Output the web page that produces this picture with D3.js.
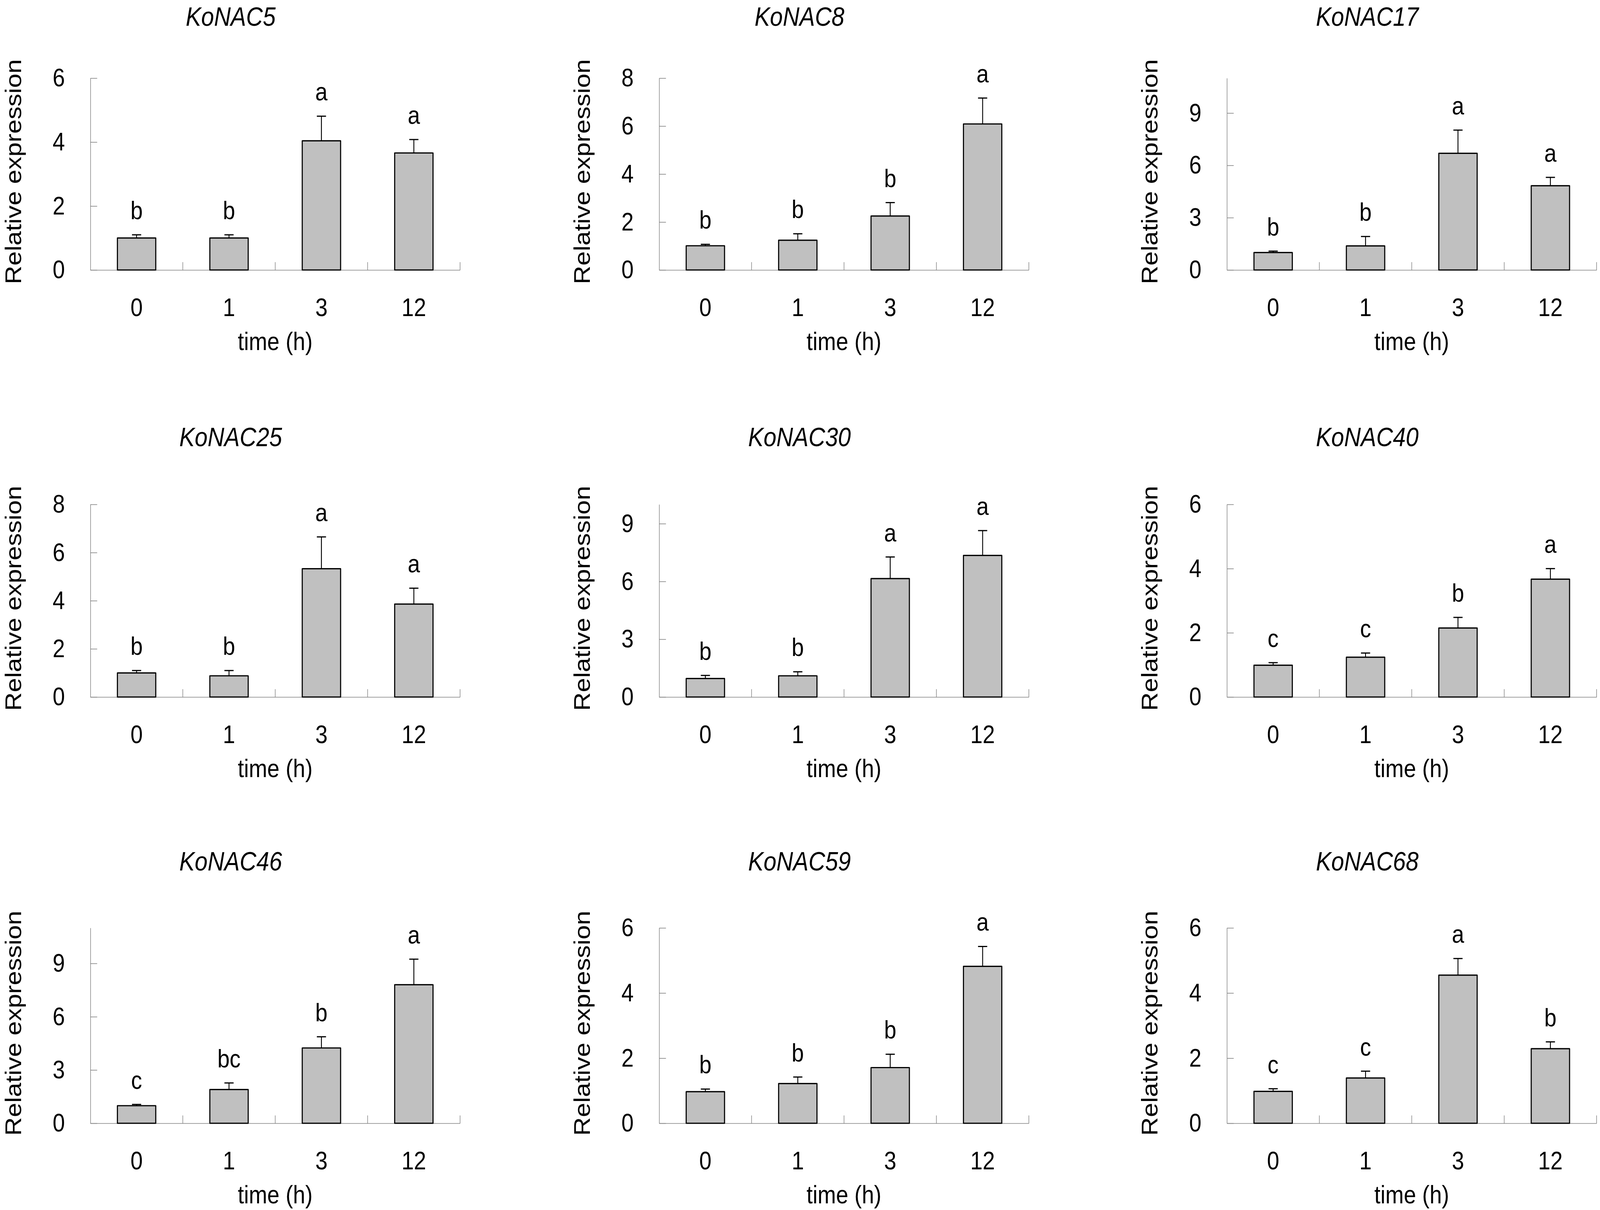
<!DOCTYPE html>
<html>
<head>
<meta charset="utf-8">
<title>KoNAC relative expression</title>
<script src="https://d3js.org/d3.v7.min.js"></script>
<style>
  html, body { margin: 0; padding: 0; background: #fff; overflow: hidden; }
  svg { display: block; background: #fff; width: 100vw; height: 100vh; font-family: 'Liberation Sans', Arial, sans-serif; }
  .axis path, .axis line { stroke: #808080; stroke-width: 1.6px; }
  .axis text { fill: #000; font-size: 65px; font-family: 'Liberation Sans', Arial, sans-serif; }
</style>
</head>
<body>
<div id="chart"></div>
<script>
// ---- data ----
var genes = ["KoNAC5", "KoNAC8", "KoNAC17", "KoNAC25", "KoNAC30", "KoNAC40", "KoNAC46", "KoNAC59", "KoNAC68"];
var times = ["0", "1", "3", "12"];

var means = [
  [1.00, 1.00, 4.04, 3.66],
  [1.01, 1.24, 2.25, 6.09],
  [1.00, 1.38, 6.69, 4.83],
  [1.00, 0.88, 5.33, 3.86],
  [0.96, 1.10, 6.15, 7.35],
  [0.99, 1.24, 2.15, 3.67],
  [0.99, 1.90, 4.24, 7.80],
  [0.97, 1.22, 1.71, 4.82],
  [0.98, 1.39, 4.55, 2.29]
];

var errors = [
  [0.10, 0.10, 0.77, 0.42],
  [0.06, 0.27, 0.56, 1.08],
  [0.08, 0.54, 1.33, 0.48],
  [0.10, 0.22, 1.32, 0.66],
  [0.16, 0.21, 1.12, 1.29],
  [0.08, 0.13, 0.33, 0.33],
  [0.07, 0.37, 0.63, 1.44],
  [0.08, 0.20, 0.41, 0.61],
  [0.08, 0.21, 0.51, 0.21]
];

var letters = [
  ["b", "b", "a", "a"],
  ["b", "b", "b", "a"],
  ["b", "b", "a", "a"],
  ["b", "b", "a", "a"],
  ["b", "b", "a", "a"],
  ["c", "c", "b", "a"],
  ["c", "bc", "b", "a"],
  ["b", "b", "b", "a"],
  ["c", "c", "a", "b"]
];

var yMax = [6, 8, 11, 8, 10, 6, 11, 6, 6];
var yStep = [2, 2, 3, 2, 3, 2, 3, 2, 2];

// ---- layout ----
var width = 4709, height = 3097;
var colX = [266, 1940, 3611];       // y-axis position of each column
var rowTop = [200, 1291, 2375];     // top of plot area per row
var rowBase = [691, 1784, 2875];    // zero line per row
var titleBase = [66, 1142, 2228];   // title baseline per row
var plotW = 1088;

// stretch the drawing to the whole window so it lines up with the 4709x3097 frame
var svg = d3.select("#chart").append("svg")
    .attr("viewBox", "0 0 " + width + " " + height)
    .attr("preserveAspectRatio", "none");

genes.forEach(function(gene, gi) {
  var col = gi % 3, row = Math.floor(gi / 3);
  var x0 = colX[col], top = rowTop[row], base = rowBase[row];

  var g = svg.append("g").attr("transform", "translate(" + x0 + ",0)");

  var xSlot = d3.scaleBand().domain(times).range([0, plotW]);
  var xBar = d3.scaleBand().domain(times).range([0, plotW])
      .paddingInner(0.585).paddingOuter(0.2925);
  var y = d3.scaleLinear().domain([0, yMax[gi]]).range([base, top]);

  var rows = times.map(function(t, i) {
    return { t: t, v: means[gi][i], e: errors[gi][i], l: letters[gi][i] };
  });

  // title
  g.append("text")
      .attr("x", 413)
      .attr("y", titleBase[row])
      .attr("text-anchor", "middle")
      .style("font-size", "68px")
      .style("font-style", "italic")
      .text(gene);

  // y axis (ticks pointing inward)
  g.append("g").attr("class", "axis")
      .call(d3.axisLeft(y)
        .tickValues(d3.range(0, yMax[gi] + 0.001, yStep[gi]))
        .tickSizeInner(-20).tickSizeOuter(0).tickPadding(75)
        .tickFormat(d3.format("d")));

  // x axis labels + line
  var xAxis = g.append("g").attr("class", "axis")
      .attr("transform", "translate(0," + base + ")")
      .call(d3.axisBottom(xSlot).tickSize(0).tickPadding(72));
  xAxis.selectAll(".tick line").remove();

  // category boundary ticks
  g.selectAll("line.sep")
    .data(times)
    .enter().append("line")
      .attr("class", "sep")
      .attr("x1", function(d) { return xSlot(d) + xSlot.bandwidth(); })
      .attr("x2", function(d) { return xSlot(d) + xSlot.bandwidth(); })
      .attr("y1", base)
      .attr("y2", base - 20)
      .attr("stroke", "#808080")
      .attr("stroke-width", 1.6);

  // axis titles
  g.append("text")
      .attr("transform", "translate(-204," + ((top + base) / 2 - 6) + ") rotate(-90)")
      .attr("text-anchor", "middle")
      .style("font-size", "66px")
      .text("Relative expression");

  g.append("text")
      .attr("x", plotW / 2)
      .attr("y", base + 205)
      .attr("text-anchor", "middle")
      .style("font-size", "65px")
      .text("time (h)");

  // error bars (upper only)
  var eb = g.selectAll("g.err").data(rows).enter().append("g").attr("class", "err");
  eb.append("line")
      .attr("x1", function(d) { return xBar(d.t) + xBar.bandwidth() / 2; })
      .attr("x2", function(d) { return xBar(d.t) + xBar.bandwidth() / 2; })
      .attr("y1", function(d) { return y(d.v); })
      .attr("y2", function(d) { return y(d.v + d.e); })
      .attr("stroke", "#000").attr("stroke-width", 2.6);
  eb.append("line")
      .attr("x1", function(d) { return xBar(d.t) + xBar.bandwidth() / 2 - 13.5; })
      .attr("x2", function(d) { return xBar(d.t) + xBar.bandwidth() / 2 + 13.5; })
      .attr("y1", function(d) { return y(d.v + d.e); })
      .attr("y2", function(d) { return y(d.v + d.e); })
      .attr("stroke", "#000").attr("stroke-width", 3);

  // bars
  g.selectAll("rect.bar")
    .data(rows)
    .enter().append("rect")
      .attr("class", "bar")
      .attr("x", function(d) { return xBar(d.t); })
      .attr("y", function(d) { return y(d.v); })
      .attr("width", xBar.bandwidth())
      .attr("height", function(d) { return base - y(d.v); })
      .attr("fill", "#c0c0c0")
      .attr("stroke", "#000")
      .attr("stroke-width", 3.2)
      .attr("stroke-linejoin", "round");

  // significance letters
  g.selectAll("text.sig")
    .data(rows)
    .enter().append("text")
      .attr("class", "sig")
      .attr("x", function(d) { return xBar(d.t) + xBar.bandwidth() / 2; })
      .attr("y", function(d) { return y(d.v + d.e) - 40; })
      .attr("text-anchor", "middle")
      .style("font-size", "65px")
      .text(function(d) { return d.l; });
});
</script>
</body>
</html>
